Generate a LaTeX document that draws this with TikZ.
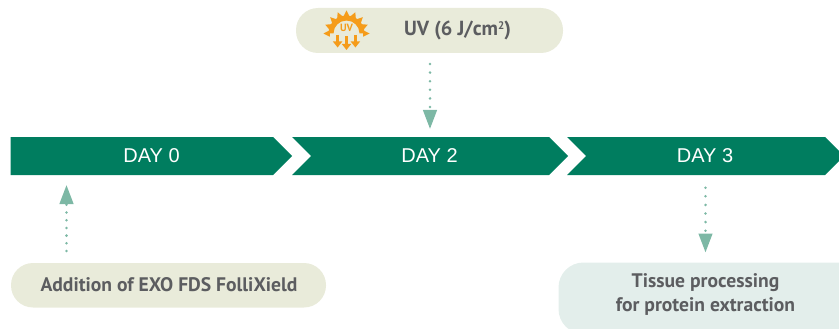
\documentclass[tikz,border=0pt]{standalone}
\usepackage{fontspec}
\setmainfont{PT Sans}
\newfontfamily\dayfont{Liberation Sans}
\usetikzlibrary{arrows.meta}
\definecolor{dgreen}{HTML}{007D5F}
\definecolor{arrowc}{HTML}{7DB8A5}
\definecolor{pilla}{HTML}{E9EBDA}
\definecolor{pillb}{HTML}{E3EEEB}
\definecolor{txtc}{HTML}{5C5D60}
\definecolor{sunc}{HTML}{F59C1A}
\tikzset{
  x=1pt,y=-1pt,
  chev/.style={fill=dgreen,draw=none},
  daylabel/.style={inner sep=0pt,text=white,font=\dayfont\fontsize{20}{22}\selectfont},
  pilltext/.style={inner sep=0pt,text=txtc,align=center,font=\bfseries\fontsize{19.6}{23.5}\selectfont},
  dotarrow/.style={draw=arrowc,line width=2.8pt,line cap=round,dash pattern=on 0pt off 8.6pt,
    -{Triangle[length=19pt,width=13.5pt,color=arrowc,line cap=butt,sep=0pt]}},
  sunpart/.style={fill=sunc,draw=none},
  sundown/.style={draw=sunc,line width=3pt,-{Triangle[length=6pt,width=9pt,color=sunc]}},
}
\begin{document}
\begin{tikzpicture}
\useasboundingbox (0,0) rectangle (839,329);
\clip (0,0) rectangle (839,329);
% chevrons
\fill[chev] (10.5,137) -- (273,137) -- (292,156) -- (273,175) -- (10.5,175) -- cycle;
\fill[chev] (292,137) -- (549,137) -- (568,156) -- (549,175) -- (292,175) -- (311,156) -- cycle;
\fill[chev] (567,137) -- (825,137) -- (844,156) -- (825,175) -- (567,175) -- (586,156) -- cycle;
\node[daylabel] (d0) at (151.5,156) {DAY 0};
\node[daylabel] (d2) at (429.5,156) {DAY 2};
\node[daylabel] (d3) at (705,156) {DAY 3};
% pills
\fill[pilla,rounded corners=22pt] (296,8) rectangle (563,53);
\fill[pilla,rounded corners=22pt] (11,263) rectangle (326,307.5);
\fill[pillb,rounded corners=25pt] (558.5,262.5) rectangle (870,334);
\node[pilltext,font=\bfseries\fontsize{20.4}{23.5}\selectfont] (uv) at (457.5,30.5) {UV (6 J/cm\raisebox{6.5pt}{\fontsize{11}{11}\selectfont 2})};
\node[pilltext] (add) at (169,285) {Addition of EXO FDS FolliXield};
\node[pilltext] (tis) at (705.5,294.5) {Tissue processing\\for protein extraction};
% sun icon
\fill[sunpart] (328.5,33.5) arc[start angle=180,end angle=360,radius=18] -- (359.5,33.5) arc[start angle=360,end angle=180,radius=13] -- cycle;
\foreach \a in {0,1,...,8}{
  \pgfmathsetmacro{\ang}{180-\a*22.5}
  \fill[sunpart] ({346.5+17*cos(\ang-11)},{33.5-17*sin(\ang-11)}) -- ({346.5+23*cos(\ang)},{33.5-23*sin(\ang)}) -- ({346.5+17*cos(\ang+11)},{33.5-17*sin(\ang+11)}) -- cycle;
}
\node[inner sep=0pt,text=sunc,font=\bfseries\fontsize{10.5}{11}\selectfont] (uvt) at (346.5,28) {UV};
\coordinate (sa1) at (337.6,35); \coordinate (sb1) at (337.6,47.5);
\coordinate (sa2) at (346.5,36.5); \coordinate (sb2) at (346.5,50);
\coordinate (sa3) at (355.4,35); \coordinate (sb3) at (355.4,47.5);
\draw[sundown] (sa1) -- (sb1);
\draw[sundown] (sa2) -- (sb2);
\draw[sundown] (sa3) -- (sb3);
% connectors
\coordinate (uvs) at (430,64); \coordinate (uve) at (430,129);
\coordinate (ads) at (66.5,251); \coordinate (ade) at (66.5,185);
\coordinate (d3s) at (705.5,187.7); \coordinate (d3e) at (705.5,252.5);
\draw[dotarrow] (uvs) -- (uve);
\draw[dotarrow,dash pattern=on 0pt off 7.7pt] (ads) -- (ade);
\draw[dotarrow] (d3s) -- (d3e);
\end{tikzpicture}
\end{document}
